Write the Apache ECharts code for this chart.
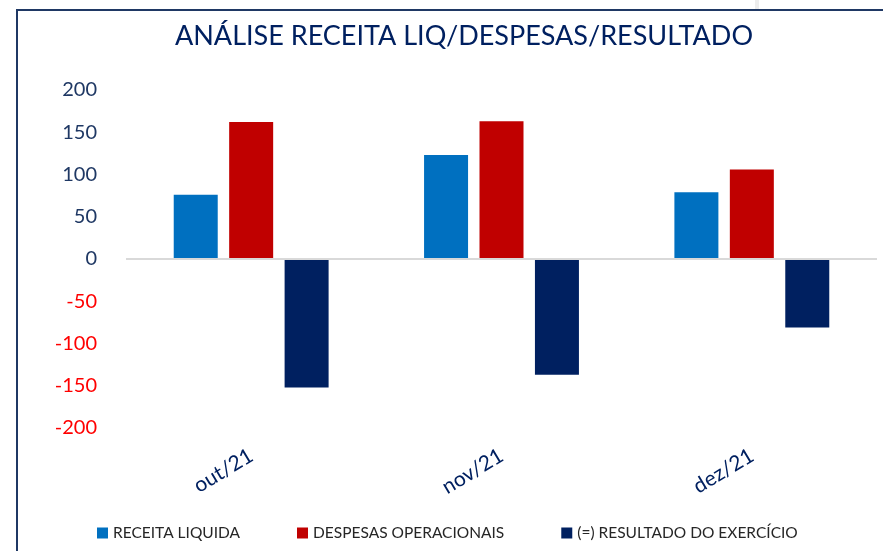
<!DOCTYPE html>
<html>
<head>
<meta charset="utf-8">
<script src="https://cdn.jsdelivr.net/npm/echarts@6/dist/echarts.min.js"></script>
<style>
  html, body { margin: 0; padding: 0; background: #fff; }
  #main { width: 883px; height: 551px; }
</style>
</head>
<body>
<div id="main"></div>
<script>
// valores (mil R$)
var meses = ['out/21', 'nov/21', 'dez/21'];
var receitaLiquida = [76, 123, 79];
var despesasOperacionais = [162, 163, 106];
var resultadoExercicio = [-152, -137, -81];
var nomes = ['RECEITA LIQUIDA', 'DESPESAS OPERACIONAIS', '(=) RESULTADO DO EXERCÍCIO'];

var fonte = 'Lato, "Noto Sans", sans-serif';
var azulEscuro = '#1F3864';

var chart = echarts.init(document.getElementById('main'));

chart.setOption({
  animation: false,
  title: {
    text: 'ANÁLISE RECEITA LIQ/DESPESAS/RESULTADO',
    left: 459,
    textAlign: 'center',
    top: 18,
    textStyle: {
      fontFamily: fonte,
      fontSize: 27,
      fontWeight: 'normal',
      color: '#002060'
    }
  },
  legend: {
    data: nomes,
    left: 92,
    top: 520,
    icon: 'rect',
    itemWidth: 11,
    itemHeight: 11,
    itemGap: 57,
    textStyle: {
      fontFamily: fonte,
      fontSize: 15.5,
      color: '#262626'
    }
  },
  grid: {
    left: 126,
    right: 6,
    top: 90,
    bottom: 123
  },
  xAxis: {
    type: 'category',
    data: meses,
    axisLine: { show: false, onZero: false },
    axisTick: { show: false },
    splitLine: { show: false },
    axisLabel: {
      rotate: 31,
      margin: 26,
      fontFamily: fonte,
      fontSize: 21,
      color: '#002060'
    }
  },
  yAxis: {
    type: 'value',
    min: -200,
    max: 200,
    interval: 50,
    axisLine: { show: false },
    axisTick: { show: false },
    splitLine: { show: false },
    axisLabel: {
      margin: 29,
      fontFamily: fonte,
      fontSize: 20,
      color: function (v) {
        return v < 0 ? '#FF0000' : azulEscuro;
      }
    }
  },
  series: [
    {
      name: nomes[0],
      type: 'bar',
      data: receitaLiquida,
      barWidth: 44,
      barGap: '26%',
      itemStyle: { color: '#0070C0' },
      markLine: {
        silent: true,
        symbol: 'none',
        label: { show: false },
        lineStyle: { color: '#D9D9D9', width: 2, type: 'solid' },
        data: [{ yAxis: 0 }]
      }
    },
    {
      name: nomes[1],
      type: 'bar',
      data: despesasOperacionais,
      barWidth: 44,
      barGap: '26%',
      itemStyle: { color: '#C00000' }
    },
    {
      name: nomes[2],
      type: 'bar',
      data: resultadoExercicio,
      barWidth: 44,
      barGap: '26%',
      itemStyle: { color: '#002060' }
    }
  ],
  graphic: [
    {
      type: 'rect',
      shape: { x: 755, y: 0, width: 4, height: 9 },
      style: { fill: '#EDEDED' }
    },
    {
      type: 'polyline',
      shape: { points: [[17, 560], [17, 10], [890, 10]] },
      style: { stroke: '#1F3864', lineWidth: 2, fill: null }
    }
  ]
});
</script>
</body>
</html>
